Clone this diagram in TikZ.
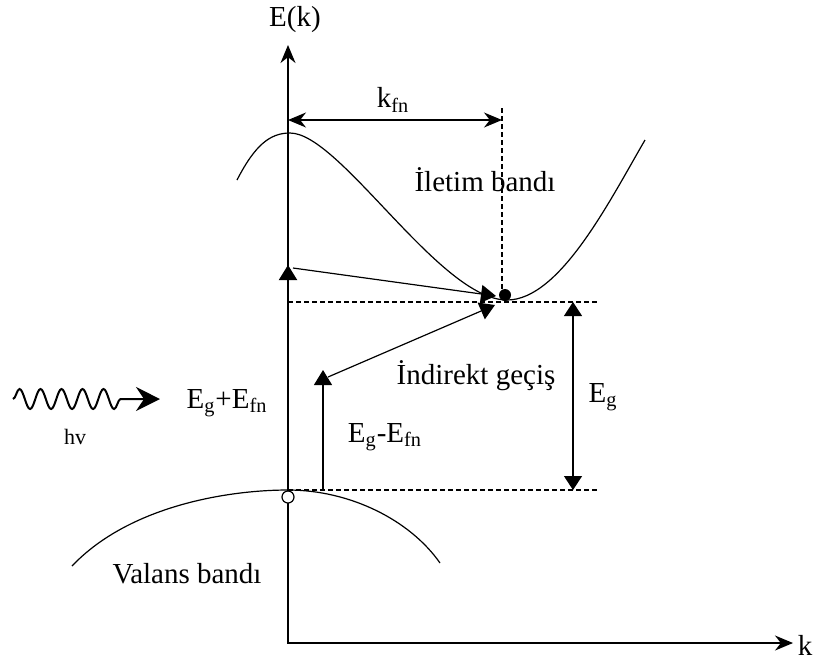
\documentclass[tikz,border=0pt]{standalone}
\usepackage{fontspec}
\setmainfont{Liberation Serif}
\usetikzlibrary{calc,positioning,arrows.meta,decorations.pathmorphing}

\begin{document}
\begin{tikzpicture}[x=0.5pt,y=-0.5pt,>={Stealth[length=9pt,width=7.5pt]},
    every node/.style={font=\fontsize{14.5}{17}\selectfont,inner sep=0pt},
    axis/.style={line width=0.75pt},
    bandline/.style={line width=0.6pt},
    dashline/.style={line width=0.6pt,dash pattern=on 2.5pt off 1.5pt},
    tri/.style={-{Triangle[length=7.5pt,width=9pt]}},
    tritri/.style={{Triangle[length=7pt,width=9pt]}-{Triangle[length=7pt,width=9pt]}}]
                \useasboundingbox (0,0) rectangle (817,666);
                % eksenler
                \coordinate (O) at (288,643);
                \coordinate (Etop) at (288,45);
                \coordinate (Kend) at (793,643);
                \draw[axis,<->] (Etop) -- (O) -- (Kend);
                \node (elab) at (295,20) {E(k)};
                \node (klab) at (805,645) {k};
                % bantlar
                \draw[bandline] (237,180) .. controls (255,145) and (270,133) .. (290,133)
                    .. controls (340,133) and (440,300) .. (507,300)
                    .. controls (560,300) and (610,200) .. (645,140);
                \draw[bandline] (72,566) .. controls (130,505) and (230,490) .. (288,490)
                    .. controls (350,490) and (410,520) .. (440,563);
                \node (iletim) at (485,180) {İletim bandı};
                \node (valans) at (187,574) {Valans bandı};
                % kesikli cizgiler
                \coordinate (Ctop) at (288,302);
                \coordinate (Cend) at (598,302);
                \coordinate (Vtop) at (288,490);
                \coordinate (Vend) at (598,490);
                \coordinate (Kd) at (502,108);
                \coordinate (Kb) at (502,292);
                \draw[dashline] (Ctop) -- (Cend);
                \draw[dashline] (Vtop) -- (Vend);
                \draw[dashline] (Kd) -- (Kb);
                % kfn
                \coordinate (Ka) at (288,120);
                \coordinate (Kc) at (502,120);
                \draw[bandline,<->] (Ka) -- (Kc);
                \node (kfn) at (393,100) {k\textsubscript{fn}};
                % Eg
                \coordinate (Ega) at (573,302);
                \coordinate (Egb) at (573,490);
                \draw[bandline,tritri] (Ega) -- (Egb);
                \node (eg) at (603,397) {E\textsubscript{g}};
                % gecisler
                \node (elec) [circle,fill,minimum size=6pt] at (505,295) {};
                \node (hole) [circle,draw,fill=white,line width=0.6pt,minimum size=6pt] at (288,497) {};
                \coordinate (Up) at (288,265);
                \coordinate (UpJ) at (293,268);
                \coordinate (Ph) at (323,490);
                \coordinate (PhTop) at (323,370);
                \coordinate (PhJ) at (328,377);
                \coordinate (T1) at (496,296);
                \coordinate (T2) at (495,305);
                \draw[line width=1pt,tri] (hole.north) -- (Up);
                \draw[bandline,tri] (UpJ) -- (T1);
                \draw[bandline,tri] (Ph) -- (PhTop);
                \draw[bandline,tri] (PhJ) -- (T2);
                \node (egefn) at (227,403) {E\textsubscript{g}+E\textsubscript{fn}};
                \node (egefn2) at (385,437) {E\textsubscript{g}-E\textsubscript{fn}};
                \node (indirekt) at (476,376) {İndirekt geçiş};
                % foton
                \coordinate (Wa) at (13,399);
                \coordinate (Wb) at (160,399);
                \draw[line width=1pt,decorate,decoration={snake,amplitude=5pt,segment length=10.5pt,post length=15pt},
                    -{Stealth[length=12pt,width=12pt,inset=4pt]}] (Wa) -- (Wb);
                \node (hv) [font=\fontsize{11}{13}\selectfont] at (75,437) {hv};
            \end{tikzpicture}
\end{document}
